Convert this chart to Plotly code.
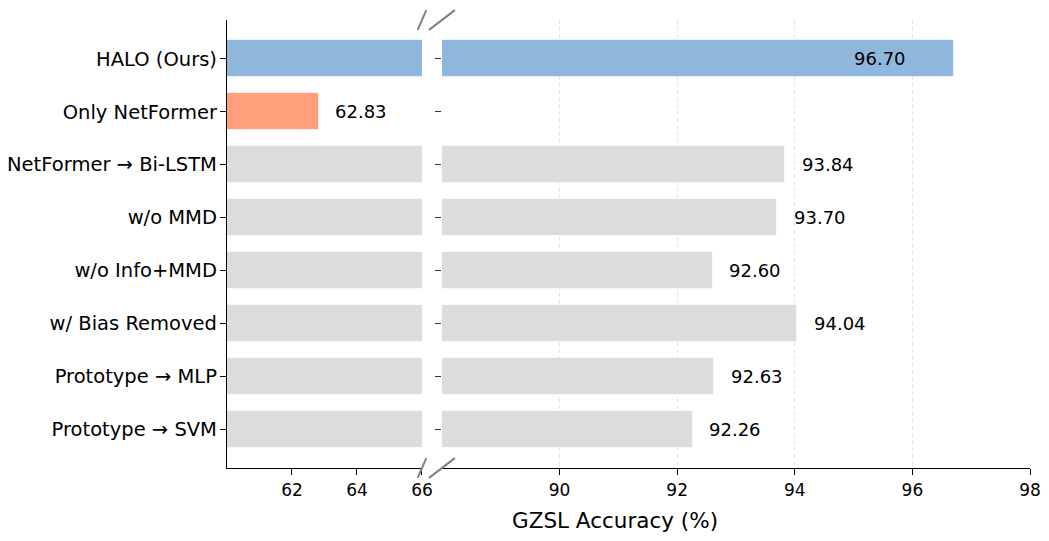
import plotly.graph_objects as go

# datos del grafico (ablation, GZSL)
metodos = ['HALO (Ours)', 'Only NetFormer', 'NetFormer → Bi-LSTM', 'w/o MMD',
           'w/o Info+MMD', 'w/ Bias Removed', 'Prototype → MLP', 'Prototype → SVM']
precision = [96.70, 62.83, 93.84, 93.70, 92.60, 94.04, 92.63, 92.26]
colores = ['#8fb7de', '#ffa07a', '#dcdcdc', '#dcdcdc', '#dcdcdc', '#dcdcdc', '#dcdcdc', '#dcdcdc']

ticks_izq = [62, 64, 66]
ticks_der = [90, 92, 94, 96, 98]
rango_izq = [60, 66]
rango_der = [88, 98]

fuente = 'DejaVu Sans'
borde = dict(color='rgba(255,255,255,0.6)', width=1)

fig = go.Figure()
fig.add_trace(go.Bar(x=precision, y=metodos, orientation='h', width=0.7,
                     marker=dict(color=colores, line=borde), xaxis='x', yaxis='y',
                     showlegend=False, hoverinfo='skip'))
fig.add_trace(go.Bar(x=precision, y=metodos, orientation='h', width=0.7,
                     marker=dict(color=colores, line=borde), xaxis='x2', yaxis='y2',
                     showlegend=False, hoverinfo='skip'))

# etiquetas de valor
for m, v in zip(metodos, precision):
    if v > rango_izq[1]:
        if v == max(precision):
            fig.add_annotation(x=v, y=m, xref='x2', yref='y2', text=f'{v:.2f}',
                               showarrow=False, xanchor='right', xshift=-46,
                               font=dict(family=fuente, size=18, color='black'))
        else:
            fig.add_annotation(x=v, y=m, xref='x2', yref='y2', text=f'{v:.2f}',
                               showarrow=False, xanchor='left', xshift=15,
                               font=dict(family=fuente, size=18, color='black'))
    else:
        fig.add_annotation(x=v, y=m, xref='x', yref='y', text=f'{v:.2f}',
                           showarrow=False, xanchor='left', xshift=14,
                           font=dict(family=fuente, size=18, color='black'))

# titulo del eje x
fig.add_annotation(x=0.483, y=-0.118, xref='paper', yref='paper', text='GZSL Accuracy (%)',
                   showarrow=False, xanchor='center', yanchor='middle',
                   font=dict(family=fuente, size=21.5, color='black'))

# marcas de corte del eje
d = 0.022
gris = dict(color='#808080', width=2)
for yy in [0, 1]:
    fig.add_shape(type='line', xref='x domain', yref='y domain',
                  x0=1 - d, x1=1 + d, y0=yy - d, y1=yy + d, line=gris)
    fig.add_shape(type='line', xref='x2 domain', yref='y2 domain',
                  x0=-d, x1=d, y0=yy - d, y1=yy + d, line=gris)

n = len(metodos)
eje_y = dict(categoryorder='array', categoryarray=metodos,
             range=[n - 1 + 0.735, -0.735], automargin=False)

fig.update_layout(
    width=1049, height=541,
    margin=dict(l=219, r=27, t=12, b=81),
    plot_bgcolor='white', paper_bgcolor='white',
    font=dict(family=fuente, size=17, color='black'),
    bargap=0,
    xaxis=dict(domain=[0, 0.2428], range=rango_izq, tickvals=ticks_izq, automargin=False,
               showline=True, linecolor='black', linewidth=1.3, ticks='outside',
               ticklen=6, tickwidth=1.2, tickcolor='black', showgrid=False,
               zeroline=False, tickfont=dict(size=17)),
    xaxis2=dict(domain=[0.2677, 1], range=rango_der, tickvals=ticks_der, automargin=False,
                showline=True, linecolor='black', linewidth=1.3, ticks='outside',
                ticklen=6, tickwidth=1.2, tickcolor='black', showgrid=True,
                gridcolor='#e3e3e3', griddash='4px,3px', gridwidth=1, zeroline=False,
                tickfont=dict(size=17), anchor='y2'),
    yaxis=dict(**eje_y, anchor='x', showline=True, linecolor='black', linewidth=1.3,
               ticks='outside', ticklen=6, tickwidth=1.2, tickcolor='black',
               tickfont=dict(size=19.5), ticklabelstandoff=-1),
    yaxis2=dict(**eje_y, anchor='x2', matches='y', showline=False, showticklabels=False,
                ticks='outside', ticklen=6, tickwidth=1.2, tickcolor='#333333'),
)

fig.write_html('out.html')
